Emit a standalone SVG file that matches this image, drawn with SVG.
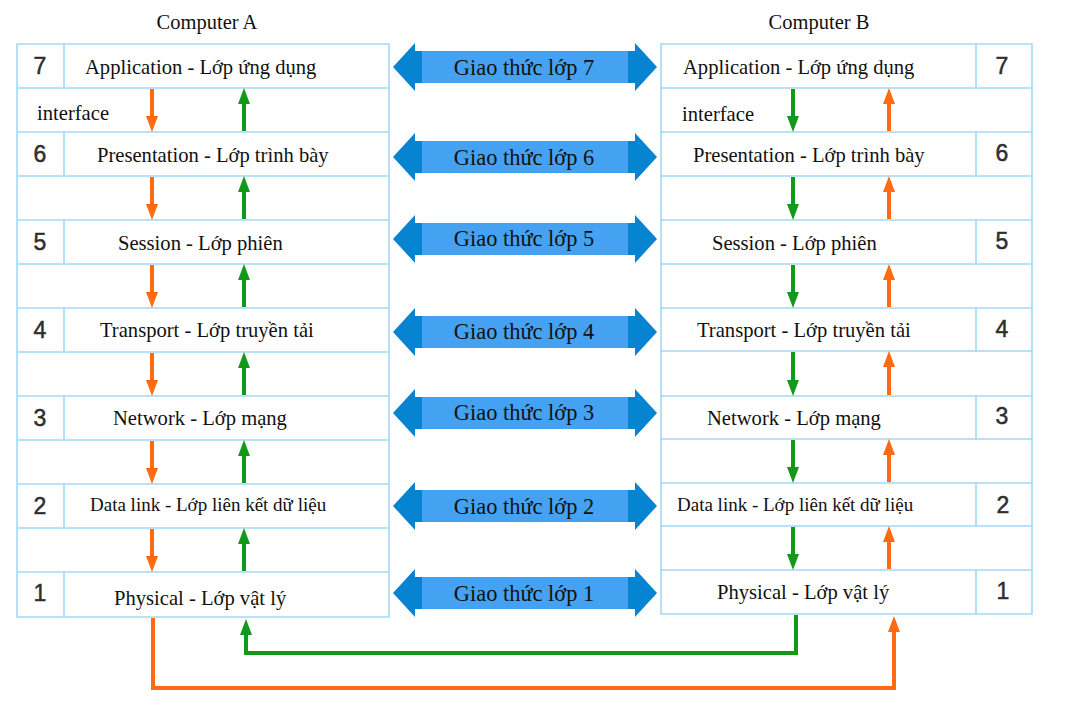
<svg xmlns="http://www.w3.org/2000/svg" width="1075" height="710" viewBox="0 0 1075 710">
<defs>
<style>
.grid{fill:none;stroke:#a3d9f6;stroke-width:1.6}
.lt{font-family:"Liberation Serif","Times New Roman",serif;font-size:20.6px;fill:#111}
.dl{font-size:19px}
.num{font-family:"Liberation Sans",Arial,sans-serif;font-size:23px;fill:#2e2e2e;text-anchor:middle;stroke:#2e2e2e;stroke-width:0.5}
.hd{font-family:"Liberation Serif","Times New Roman",serif;font-size:20.5px;fill:#111;text-anchor:middle}
.pt{font-family:"Liberation Serif","Times New Roman",serif;font-size:22.4px;fill:#111;text-anchor:middle}
.or{fill:none;stroke:#ff6a12;stroke-width:4}
.gr{fill:none;stroke:#12991a;stroke-width:4}
</style>
<marker id="mo" viewBox="0 0 16 12" markerWidth="16" markerHeight="12" refX="0" refY="6" orient="auto" markerUnits="userSpaceOnUse"><path d="M0,0 L16,6 L0,12 z" fill="#ff6a12"/></marker>
<marker id="mg" viewBox="0 0 16 12" markerWidth="16" markerHeight="12" refX="0" refY="6" orient="auto" markerUnits="userSpaceOnUse"><path d="M0,0 L16,6 L0,12 z" fill="#12991a"/></marker>
<g id="dbl">
<path d="M393,0 L415,-24 L415,-16 L635,-16 L635,-24 L657,0 L635,24 L635,16 L415,16 L415,24 z" fill="#0684d2"/>
<rect x="422" y="-16" width="206" height="32" fill="#45a2f2"/>
</g>
</defs>
<rect width="1075" height="710" fill="#ffffff"/>

<text class="hd" x="207" y="29">Computer A</text>
<text class="hd" x="819" y="29">Computer B</text>

<!-- Computer A stack -->
<g id="stackA">
<path class="grid" d="M17,44 H389 V617 H17 Z M17,88 H389 M17,132 H389 M17,176 H389 M17,220 H389 M17,264 H389 M17,308 H389 M17,352 H389 M17,396 H389 M17,440 H389 M17,484 H389 M17,528 H389 M17,572 H389"/>
</g>
<g id="A7"><path class="grid" d="M64,44 V88"/><text class="num" x="40" y="74">7</text><text class="lt" x="85" y="74">Application - Lớp ứng dụng</text></g>
<g id="Aif"><text class="lt" x="37" y="120">interface</text></g>
<g id="A6"><path class="grid" d="M64,132 V176"/><text class="num" x="40" y="162">6</text><text class="lt" x="97" y="162">Presentation - Lớp trình bày</text></g>
<g id="A5"><path class="grid" d="M64,220 V264"/><text class="num" x="40" y="250">5</text><text class="lt" x="118" y="250">Session - Lớp phiên</text></g>
<g id="A4"><path class="grid" d="M64,308 V352"/><text class="num" x="40" y="338">4</text><text class="lt" x="100" y="337">Transport - Lớp truyền tải</text></g>
<g id="A3"><path class="grid" d="M64,396 V440"/><text class="num" x="40" y="426">3</text><text class="lt" x="113" y="425">Network - Lớp mạng</text></g>
<g id="A2"><path class="grid" d="M64,484 V528"/><text class="num" x="40" y="514">2</text><text class="lt dl" x="90" y="511">Data link - Lớp liên kết dữ liệu</text></g>
<g id="A1"><path class="grid" d="M64,572 V617"/><text class="num" x="40" y="601">1</text><text class="lt" x="114" y="605">Physical - Lớp vật lý</text></g>

<!-- Computer B stack -->
<g id="stackB">
<path class="grid" d="M661,44 H1032 V614 H661 Z M661,88 H1032 M661,132 H1032 M661,176 H1032 M661,220 H1032 M661,264 H1032 M661,308 H1032 M661,351 H1032 M661,396 H1032 M661,439 H1032 M661,483 H1032 M661,526 H1032 M661,570 H1032"/>
</g>
<g id="B7"><path class="grid" d="M976,44 V88"/><text class="num" x="1002" y="74">7</text><text class="lt" x="683" y="74">Application - Lớp ứng dụng</text></g>
<g id="Bif"><text class="lt" x="682" y="121">interface</text></g>
<g id="B6"><path class="grid" d="M976,132 V176"/><text class="num" x="1002" y="161">6</text><text class="lt" x="693" y="162">Presentation - Lớp trình bày</text></g>
<g id="B5"><path class="grid" d="M976,220 V264"/><text class="num" x="1002" y="249">5</text><text class="lt" x="712" y="250">Session - Lớp phiên</text></g>
<g id="B4"><path class="grid" d="M976,308 V351"/><text class="num" x="1002" y="337">4</text><text class="lt" x="697" y="337">Transport - Lớp truyền tải</text></g>
<g id="B3"><path class="grid" d="M976,396 V439"/><text class="num" x="1002" y="424">3</text><text class="lt" x="707" y="425">Network - Lớp mạng</text></g>
<g id="B2"><path class="grid" d="M976,483 V526"/><text class="num" x="1003" y="513">2</text><text class="lt dl" x="677" y="511">Data link - Lớp liên kết dữ liệu</text></g>
<g id="B1"><path class="grid" d="M976,570 V614"/><text class="num" x="1003" y="599">1</text><text class="lt" x="717" y="599">Physical - Lớp vật lý</text></g>

<!-- protocols -->
<g id="P7"><use href="#dbl" transform="translate(0,67)"/><text class="pt" x="524" y="75">Giao thức lớp 7</text></g>
<g id="P6"><use href="#dbl" transform="translate(0,157)"/><text class="pt" x="524" y="165">Giao thức lớp 6</text></g>
<g id="P5"><use href="#dbl" transform="translate(0,239)"/><text class="pt" x="524" y="246">Giao thức lớp 5</text></g>
<g id="P4"><use href="#dbl" transform="translate(0,332)"/><text class="pt" x="524" y="339">Giao thức lớp 4</text></g>
<g id="P3"><use href="#dbl" transform="translate(0,413)"/><text class="pt" x="524" y="420">Giao thức lớp 3</text></g>
<g id="P2"><use href="#dbl" transform="translate(0,506)"/><text class="pt" x="524" y="514">Giao thức lớp 2</text></g>
<g id="P1"><use href="#dbl" transform="translate(0,593)"/><text class="pt" x="524" y="601">Giao thức lớp 1</text></g>

<!-- connectors -->
<g id="connectors">
<path class="or" marker-end="url(#mo)" d="M152,89 V116"/>
<path class="or" marker-end="url(#mo)" d="M152,177 V204"/>
<path class="or" marker-end="url(#mo)" d="M152,265 V292"/>
<path class="or" marker-end="url(#mo)" d="M152,353 V380"/>
<path class="or" marker-end="url(#mo)" d="M152,441 V468"/>
<path class="or" marker-end="url(#mo)" d="M152,529 V556"/>
<path class="gr" marker-end="url(#mg)" d="M244,131 V104"/>
<path class="gr" marker-end="url(#mg)" d="M244,219 V192"/>
<path class="gr" marker-end="url(#mg)" d="M244,307 V280"/>
<path class="gr" marker-end="url(#mg)" d="M244,395 V368"/>
<path class="gr" marker-end="url(#mg)" d="M244,483 V456"/>
<path class="gr" marker-end="url(#mg)" d="M244,571 V544"/>
<path class="gr" marker-end="url(#mg)" d="M793,89 V116"/>
<path class="gr" marker-end="url(#mg)" d="M793,177 V204"/>
<path class="gr" marker-end="url(#mg)" d="M793,265 V292"/>
<path class="gr" marker-end="url(#mg)" d="M793,352 V380"/>
<path class="gr" marker-end="url(#mg)" d="M793,440 V467"/>
<path class="gr" marker-end="url(#mg)" d="M793,527 V554"/>
<path class="or" marker-end="url(#mo)" d="M889,131 V104"/>
<path class="or" marker-end="url(#mo)" d="M889,219 V192"/>
<path class="or" marker-end="url(#mo)" d="M889,307 V280"/>
<path class="or" marker-end="url(#mo)" d="M889,395 V367"/>
<path class="or" marker-end="url(#mo)" d="M889,482 V455"/>
<path class="or" marker-end="url(#mo)" d="M889,569 V542"/>
<path class="or" marker-end="url(#mo)" d="M153,618 V688 H894 V632"/>
<path class="gr" marker-end="url(#mg)" d="M796,615 V653 H246 V635"/>
</g>
</svg>
